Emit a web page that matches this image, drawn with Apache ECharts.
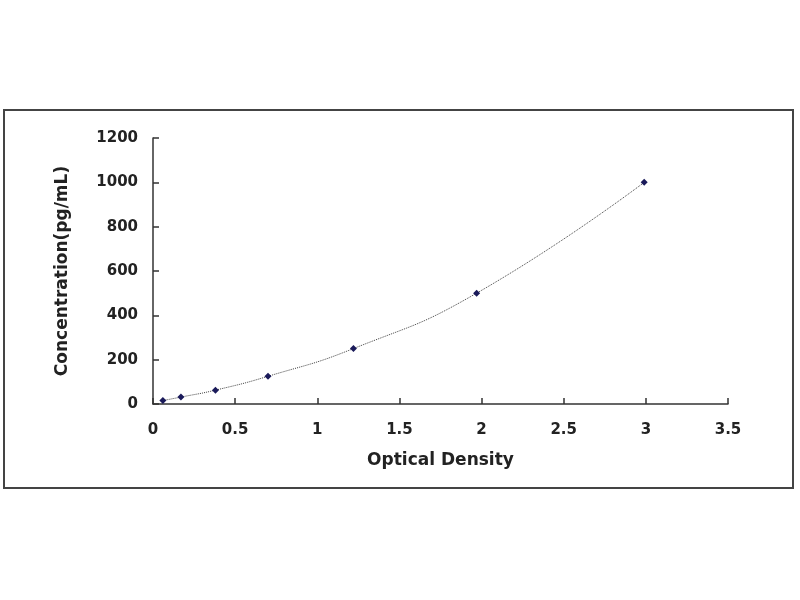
<!DOCTYPE html>
<html>
<head>
<meta charset="utf-8">
<script src="https://cdn.jsdelivr.net/npm/echarts@6/dist/echarts.min.js"></script>
<style>
  html, body { margin: 0; padding: 0; background: #fff; }
  #main { width: 800px; height: 600px; }
</style>
</head>
<body>
<div id="main"></div>
<script>
// standard curve: optical density vs concentration
var od = [0.06, 0.17, 0.38, 0.70, 1.22, 1.97, 2.99];
var conc = [15.6, 31.2, 62.5, 125, 250, 500, 1000];

var points = od.map(function (x, i) { return [x, conc[i]]; });

var labelFont = { fontFamily: 'DejaVu Sans', fontWeight: 'bold', fontSize: 15, color: '#222' };
var nameFont = { fontFamily: 'DejaVu Sans', fontWeight: 'bold', fontSize: 17, color: '#222' };

option = {
    animation: false,
    backgroundColor: '#fff',
    graphic: [
        {
            type: 'rect',
            shape: { x: 4, y: 110, width: 789, height: 378 },
            style: { fill: 'none', stroke: '#444', lineWidth: 2 }
        }
    ],
    grid: { left: 153, right: 72, top: 138, bottom: 196 },
    xAxis: {
        type: 'value',
        min: 0, max: 3.5, interval: 0.5,
        name: 'Optical Density',
        nameLocation: 'middle',
        nameGap: 48,
        nameTextStyle: nameFont,
        axisLine: { lineStyle: { color: '#333', width: 1.5 } },
        axisTick: { inside: true, length: 6, lineStyle: { color: '#333', width: 1.5 } },
        axisLabel: Object.assign({ margin: 19 }, labelFont),
        splitLine: { show: false }
    },
    yAxis: {
        type: 'value',
        min: 0, max: 1200, interval: 200,
        name: 'Concentration(pg/mL)',
        nameLocation: 'middle',
        nameGap: 82,
        nameTextStyle: nameFont,
        axisLine: { show: true, lineStyle: { color: '#333', width: 1.5 } },
        axisTick: { show: true, inside: true, length: 6, lineStyle: { color: '#333', width: 1.5 } },
        axisLabel: Object.assign({ margin: 15, formatter: function (v) { return String(v); } }, labelFont),
        splitLine: { show: false }
    },
    series: [
        {
            type: 'line',
            data: points,
            smooth: true,
            symbol: 'diamond',
            symbolSize: 7,
            itemStyle: { color: '#1a1a5a' },
            lineStyle: { color: '#444', width: 1, type: 'dotted' }
        }
    ]
};

var chart = echarts.init(document.getElementById('main'));
chart.setOption(option);
</script>
</body>
</html>
